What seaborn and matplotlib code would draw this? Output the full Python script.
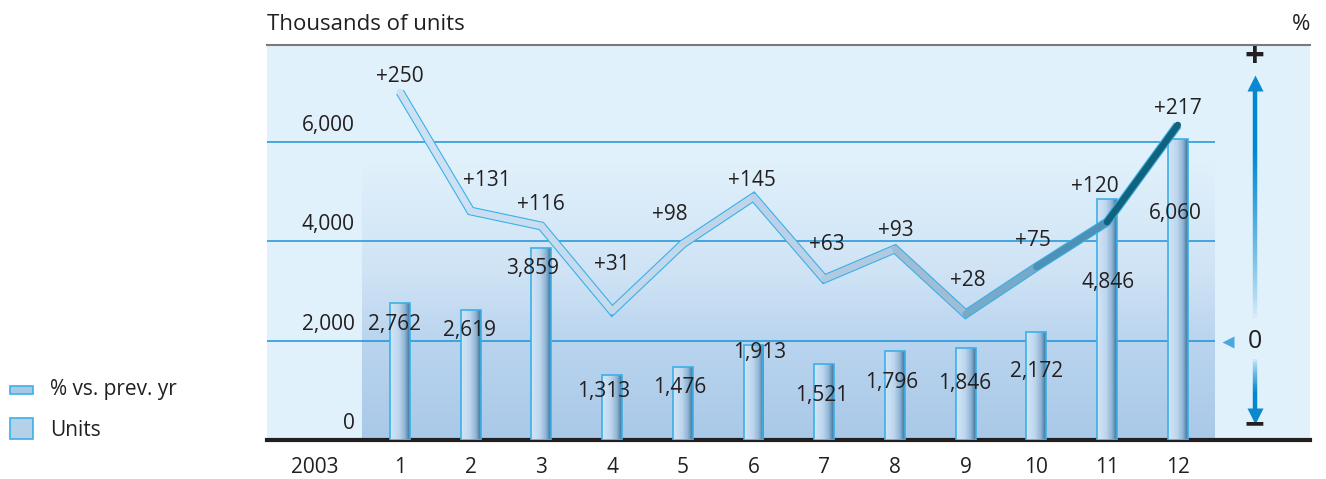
import numpy as np
import pandas as pd
import matplotlib.pyplot as plt
import seaborn as sns
from matplotlib.colors import LinearSegmentedColormap
from matplotlib.collections import LineCollection
from matplotlib.patches import Rectangle

# -----------------------------
# Data
# -----------------------------
months = ["1", "2", "3", "4", "5", "6", "7", "8", "9", "10", "11", "12"]
units = [2762, 2619, 3859, 1313, 1476, 1913, 1521, 1796, 1846, 2172, 4846, 6060]
pct_change = [250, 131, 116, 31, 98, 145, 63, 93, 28, 75, 120, 217]
year_label = "2003"
unit_ticks = [0, 2000, 4000, 6000]

# label placement (pixels, relative to bar top / line point)
bar_lbl_dx = [-5, -1, -9, -8, -3, 6, -3, -3, -1, 0, 1, -2]
bar_lbl_dy = [-22, -21, -20, -17, -21, -8, -31, -32, -35, -40, -84, -75]
pct_lbl_dx = [0, 16, 0, 0, -13, -2, 3, 1, 2, -3, -12, 0]
pct_lbl_dy = [15, 31, 21, 46, 29, 17, 34, 19, 34, 27, 35, 17]

df = pd.DataFrame({"month": months, "units": units, "pct": pct_change})

# -----------------------------
# Style
# -----------------------------
sns.set_style("white")
plt.rcParams["font.family"] = ["Open Sans", "DejaVu Sans"]
txt_color = "#231f20"
grid_blue = "#1d93d6"
edge_blue = "#3bb0e8"
fs = 15

fig = plt.figure(figsize=(13.26, 4.79), dpi=100)
ax = fig.add_axes([267 / 1326, 39 / 479, 1043 / 1326, 395 / 479])
ax.set_facecolor("#e0f1fb")

x_left, x_right = -1.88, 12.87
y_top = 7940

# shaded panel behind the bars
bg_cmap = LinearSegmentedColormap.from_list(
    "bg", [(0, "#a9c9e8"), (0.35, "#b9d4ee"), (0.6, "#cfe3f5"), (1, "#e0f1fb")])
grad = np.linspace(0, 1, 256).reshape(-1, 1)
ax.imshow(grad, cmap=bg_cmap, origin="lower", aspect="auto",
          extent=(-0.54, 11.52, 0, 5570), zorder=0)

# grid lines
ax.hlines(unit_ticks[1:], x_left, 11.52, color=grid_blue, lw=1.1, zorder=1)

# bars
sns.barplot(data=df, x="month", y="units", order=months, width=0.28,
            color="#c5dcf0", ax=ax, zorder=3)
bar_cmap = LinearSegmentedColormap.from_list(
    "bar", [(0, "#d3e6f7"), (0.45, "#bdd6ee"), (0.75, "#8fb4d4"), (1, "#3a7096")])
hgrad = np.linspace(0, 1, 256).reshape(1, -1)
for p in ax.patches:
    x0, y0 = p.get_x(), p.get_y()
    w, h = p.get_width(), p.get_height()
    im = ax.imshow(hgrad, cmap=bar_cmap, aspect="auto",
                   extent=(x0, x0 + w, y0, y0 + h), zorder=3)
    im.set_clip_path(p)
    p.set_facecolor("none")
    p.set_edgecolor(edge_blue)
    p.set_linewidth(1.2)
    p.set_zorder(4)

# bar value labels
for i, v in enumerate(units):
    ax.annotate(f"{v:,}", xy=(i, v), xytext=(bar_lbl_dx[i], bar_lbl_dy[i]),
                textcoords="offset pixels", ha="center", va="center",
                fontsize=fs, color=txt_color, zorder=6)

# unit axis labels
for v in unit_ticks:
    ax.annotate(f"{v:,}", xy=(-0.64, v), xytext=(0, 6), textcoords="offset pixels",
                ha="right", va="bottom", fontsize=fs, color=txt_color)

ax.set_xlim(x_left, x_right)
ax.set_ylim(0, y_top)
ax.set_yticks([])
ax.set_xticks([-1.2] + list(range(12)))
ax.set_xticklabels([year_label] + months, fontsize=fs, color=txt_color)
ax.tick_params(axis="x", length=0, pad=12)
ax.set_xlabel("")
ax.set_ylabel("")
for s in ["left", "right"]:
    ax.spines[s].set_visible(False)
ax.spines["top"].set_color("#7a7a7a")
ax.spines["top"].set_linewidth(1.5)
ax.spines["bottom"].set_color("#231f20")
ax.spines["bottom"].set_linewidth(3)

# -----------------------------
# % vs. previous year (twin axis)
# -----------------------------
ax2 = ax.twinx()
ax2.set_ylim(-98, 297)
ax2.set_xlim(x_left, x_right)
ax2.axis("off")

xs = np.arange(len(pct_change))
pts = np.column_stack([xs, pct_change])
segs = np.stack([pts[:-1], pts[1:]], axis=1)
ax2.plot(xs, pct_change, color=edge_blue, lw=6.4, solid_joinstyle="miter",
         solid_capstyle="butt", zorder=5)
line_cmap = LinearSegmentedColormap.from_list(
    "ln", [(0, "#cde1f3"), (0.55, "#b9d0e6"), (0.72, "#9dbbd4"),
           (0.82, "#6ea4c6"), (0.91, "#4b8fb6"), (1, "#11627c")])
seg_colors = line_cmap(np.linspace(0, 1, len(segs)))
lc = LineCollection(segs, colors=seg_colors, linewidths=4.8,
                    capstyle="round", joinstyle="round", zorder=6)
ax2.add_collection(lc)

for i, v in enumerate(pct_change):
    ax2.annotate(f"+{v}", xy=(i, v), xytext=(pct_lbl_dx[i], pct_lbl_dy[i]),
                 textcoords="offset pixels", ha="center", va="center",
                 fontsize=fs, color=txt_color, zorder=7)

# +/- scale indicator on the right
ax_x = 12.09
up = np.linspace(20, 255, 60)
up_alpha = np.clip((up - 20) / 170, 0, 1) ** 0.8
up_segs = [[(ax_x, a), (ax_x, b)] for a, b in zip(up[:-1], up[1:])]
ax2.add_collection(LineCollection(up_segs, colors=[(0.0, 0.53, 0.82, a) for a in up_alpha[:-1]],
                                  linewidths=3.2, capstyle="butt"))
dn = np.linspace(-15, -68, 30)
dn_alpha = np.clip((-dn - 15) / 35, 0, 1) ** 0.8
dn_segs = [[(ax_x, a), (ax_x, b)] for a, b in zip(dn[:-1], dn[1:])]
ax2.add_collection(LineCollection(dn_segs, colors=[(0.0, 0.53, 0.82, a) for a in dn_alpha[:-1]],
                                  linewidths=3.2, capstyle="butt"))
ax2.plot([ax_x], [259], marker="^", ms=11, color="#0a88d0", mec="none")
ax2.plot([ax_x], [-74], marker="v", ms=11, color="#0a88d0", mec="none")
ax2.text(ax_x, 284, "+", ha="center", va="center", fontsize=25,
         fontweight="bold", color=txt_color)
ax2.text(ax_x, -84, "\u2212", ha="center", va="center", fontsize=25,
         fontweight="bold", color=txt_color)
ax2.text(ax_x, 0, "0", ha="center", va="center", fontsize=18, color=txt_color)
ax2.plot([11.71], [0], marker="<", ms=8, color="#4aa8dc", mec="none")

# -----------------------------
# Header texts and legend
# -----------------------------
fig.text(267 / 1326, 1 - 25 / 479, "Thousands of units", ha="left", va="center",
         fontsize=16, color=txt_color)
fig.text(1310 / 1326, 1 - 25 / 479, "%", ha="right", va="center",
         fontsize=16, color=txt_color)

W, H = 1326, 479
fig.add_artist(Rectangle((10 / W, 1 - 394 / H), 23 / W, 8 / H, transform=fig.transFigure,
                         facecolor="#a9c8e4", edgecolor=edge_blue, lw=1.2))
fig.add_artist(Rectangle((10 / W, 1 - 439 / H), 23 / W, 21 / H, transform=fig.transFigure,
                         facecolor="#b5d1ea", edgecolor=edge_blue, lw=1.2))
fig.text(50 / W, 1 - 390 / H, "% vs. prev. yr", ha="left", va="center",
         fontsize=fs, color=txt_color)
fig.text(50 / W, 1 - 430 / H, "Units", ha="left", va="center",
         fontsize=fs, color=txt_color)

plt.savefig("out.png", dpi=100)
